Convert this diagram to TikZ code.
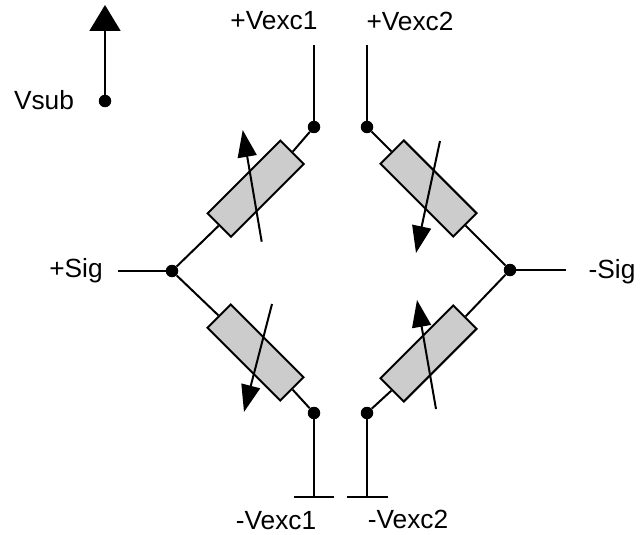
\documentclass[tikz,border=0pt]{standalone}
\usepackage{fontspec}
\setmainfont{Liberation Sans}
\usetikzlibrary{arrows.meta}
\begin{document}
\begin{tikzpicture}[x=1pt,y=-1pt,
  wire/.style={draw=black,line width=2pt},
  dotn/.style={circle,fill=black,draw=none,inner sep=0pt,minimum size=12.5pt},
  res/.style={rectangle,draw=black,line width=2pt,fill=black!20,minimum width=103pt,minimum height=33pt,inner sep=0pt},
  adj/.style={draw=black,line width=2pt,-{Triangle[length=27pt,width=19pt]}},
  subarrow/.style={draw=black,line width=2pt,-{Triangle[length=26pt,width=31pt]}},
  lab/.style={font=\fontsize{26.3}{29}\selectfont,inner sep=0pt}]
\useasboundingbox (0,0) rectangle (641,535);
% junctions
\node[dotn] (tl) at (314,127) {};
\node[dotn] (tr) at (367,127) {};
\node[dotn] (ml) at (172,271) {};
\node[dotn] (mr) at (510,270) {};
\node[dotn] (bl) at (314,413) {};
\node[dotn] (br) at (367,413) {};
\node[dotn] (vs) at (105,101) {};
% free ends
\coordinate (tlend) at (314,45);
\coordinate (trend) at (367,45);
\coordinate (mlend) at (118,271);
\coordinate (mrend) at (566,270);
\coordinate (blend) at (314,497);
\coordinate (brend) at (367,497);
\coordinate (bl1) at (294,497);
\coordinate (bl2) at (334,497);
\coordinate (br1) at (347,497);
\coordinate (br2) at (388,497);
\coordinate (vstip) at (105,5);
% resistors
\node[res,rotate=45,anchor=center] (r1) at (255.7,188.7) {};
\node[res,rotate=-45] (r2) at (428.5,188.5) {};
\node[res,rotate=-45] (r3) at (255.5,352.5) {};
\node[res,rotate=45] (r4) at (428.5,353.5) {};
% wires
\draw[wire] (tlend) -- (tl);
\draw[wire] (trend) -- (tr);
\draw[wire] (mlend) -- (ml);
\draw[wire] (mrend) -- (mr);
\draw[wire] (blend) -- (bl);
\draw[wire] (brend) -- (br);
\draw[wire] (bl1) -- (bl2);
\draw[wire] (br1) -- (br2);
\draw[wire] (tl) -- (r1.east);
\draw[wire] (r1.west) -- (ml);
\draw[wire] (tr) -- (r2.west);
\draw[wire] (r2.east) -- (mr);
\draw[wire] (ml) -- (r3.west);
\draw[wire] (r3.east) -- (bl);
\draw[wire] (mr) -- (r4.east);
\draw[wire] (r4.west) -- (br);
% adjust arrows
\coordinate (a1s) at (261.7,241.7); \coordinate (a1t) at (242.7,130);
\coordinate (a2s) at (440,141); \coordinate (a2t) at (416,253);
\coordinate (a3s) at (272,304); \coordinate (a3t) at (244,412);
\coordinate (a4s) at (436,409); \coordinate (a4t) at (417,300);
\draw[adj] (a1s) -- (a1t);
\draw[adj] (a2s) -- (a2t);
\draw[adj] (a3s) -- (a3t);
\draw[adj] (a4s) -- (a4t);
\draw[subarrow] (vs) -- (vstip);
% labels
\node[lab] (l1) at (274,21) {+Vexc1};
\node[lab] (l2) at (410,21) {+Vexc2};
\node[lab] (l3) at (44,100) {Vsub};
\node[lab] (l4) at (76,271) {+Sig};
\node[lab] (l5) at (612,272) {-Sig};
\node[lab] (l6) at (276,521) {-Vexc1};
\node[lab] (l7) at (408,519) {-Vexc2};
\end{tikzpicture}
\end{document}
